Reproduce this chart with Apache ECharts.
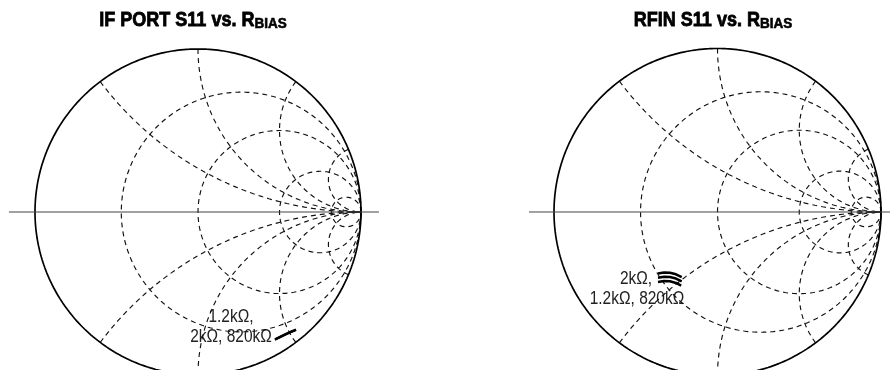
<!DOCTYPE html>
<html>
<head>
<meta charset="utf-8">
<script src="https://cdn.jsdelivr.net/npm/echarts@6/dist/echarts.min.js"></script>
<style>
  html, body { margin: 0; padding: 0; background: #fff; }
  #main { width: 890px; height: 370px; }
</style>
</head>
<body>
<div id="main"></div>
<script>
// smith chart grid values (normalized)
var resistanceCircles = [0.36, 1, 3, 10];
var reactanceArcs = [0.5, 1, 2, 5];

var ifPort1k2 = [[0.472, -0.780], [0.503, -0.765], [0.534, -0.750], [0.564, -0.736], [0.601, -0.721]];
var ifPort2k = [[0.472, -0.784], [0.503, -0.769], [0.534, -0.754], [0.564, -0.740], [0.601, -0.725]];
var ifPort820k = [[0.473, -0.782], [0.504, -0.767], [0.535, -0.752], [0.565, -0.738], [0.602, -0.723]];

var rfin2k = [[-0.364, -0.376], [-0.327, -0.370], [-0.291, -0.372], [-0.254, -0.381], [-0.219, -0.398]];
var rfin1k2 = [[-0.364, -0.402], [-0.327, -0.396], [-0.291, -0.398], [-0.254, -0.407], [-0.219, -0.424]];
var rfin820k = [[-0.364, -0.428], [-0.327, -0.422], [-0.291, -0.424], [-0.254, -0.434], [-0.222, -0.450]];

var titles = ['IF PORT S11 vs. R', 'RFIN S11 vs. R'];

var sans = "'Liberation Sans', Arial, sans-serif";

function circlePts(cx, cy, rad) {
    var pts = [];
    for (var i = 0; i <= 360; i++) {
        var a = i * Math.PI / 180;
        pts.push([cx + rad * Math.cos(a), cy + rad * Math.sin(a)]);
    }
    return pts;
}

function rCircle(r) {
    return circlePts(r / (1 + r), 0, 1 / (1 + r));
}

function xArc(x) {
    var pts = [];
    for (var i = 0; i < 400; i++) {
        var r = Math.tan(i / 400 * Math.PI / 2);
        var d = (r + 1) * (r + 1) + x * x;
        pts.push([(r * r - 1 + x * x) / d, 2 * x / d]);
    }
    pts.push([1, 0]);
    return pts;
}

var dashed = { color: '#111', width: 1.15, type: [5, 4] };

function line(idx, data, style) {
    return {
        type: 'line', xAxisIndex: idx, yAxisIndex: idx,
        data: data, showSymbol: false, symbol: 'none',
        lineStyle: style, silent: true, animation: false
    };
}

function smithSeries(idx, axisLine) {
    var s = [];
    resistanceCircles.forEach(function (r) { s.push(line(idx, rCircle(r), dashed)); });
    reactanceArcs.forEach(function (x) {
        s.push(line(idx, xArc(x), dashed));
        s.push(line(idx, xArc(-x), dashed));
    });
    s.push(line(idx, circlePts(0, 0, 1), { color: '#000', width: 1.7 }));
    s.push(line(idx, axisLine, { color: '#444', width: 1 }));
    return s;
}

var series = [].concat(
    smithSeries(0, [[-1.16, 0], [1.11, 0]]),
    smithSeries(1, [[-1.153, 0], [1.06, 0]])
);
[ifPort1k2, ifPort2k, ifPort820k].forEach(function (d) {
    series.push(line(0, d, { color: '#000', width: 2 }));
});
[rfin2k, rfin1k2, rfin820k].forEach(function (d) {
    series.push(line(1, d, { color: '#000', width: 2.5 }));
});

function axis(idx, min, max) {
    return { type: 'value', gridIndex: idx, min: min, max: max, show: false };
}

function titleText(str, x) {
    return {
        type: 'text', x: x, y: 9, scaleX: 0.9,
        style: {
            text: '{a|' + str + '}{b|BIAS}',
            align: 'center', verticalAlign: 'top',
            rich: {
                a: { fontFamily: sans, fontWeight: 'bold', fontSize: 20, lineHeight: 22, fill: '#000', stroke: '#000', lineWidth: 0.8 },
                b: { fontFamily: sans, fontWeight: 'bold', fontSize: 15, lineHeight: 22, fill: '#000', stroke: '#000', lineWidth: 0.6, verticalAlign: 'bottom', padding: [7, 0, 0, 0] }
            }
        }
    };
}

function label(str, x, y) {
    return {
        type: 'text', x: x, y: y, scaleX: 0.86,
        style: {
            text: str, align: 'center', verticalAlign: 'middle',
            font: '18px ' + sans, fill: '#222'
        }
    };
}

var myChart = echarts.init(document.getElementById('main'));
var option = {
    backgroundColor: '#fff',
    animation: false,
    grid: [
        { left: 2.4, top: 16.4, width: 391.2, height: 353.6 },
        { left: 521.3, top: 15.8, width: 368.7, height: 354.2 }
    ],
    xAxis: [axis(0, -1.2, 1.2), axis(1, -1.2, 1.055)],
    yAxis: [axis(0, -0.9693, 1.2), axis(1, -0.9664, 1.2)],
    series: series,
    graphic: [
        titleText(titles[0], 193),
        titleText(titles[1], 713),
        label('1.2kΩ,', 231, 317),
        label('2kΩ, 820kΩ', 231, 337),
        label('2kΩ,', 636, 279),
        label('1.2kΩ, 820kΩ', 637, 299)
    ]
};
myChart.setOption(option);
</script>
</body>
</html>
